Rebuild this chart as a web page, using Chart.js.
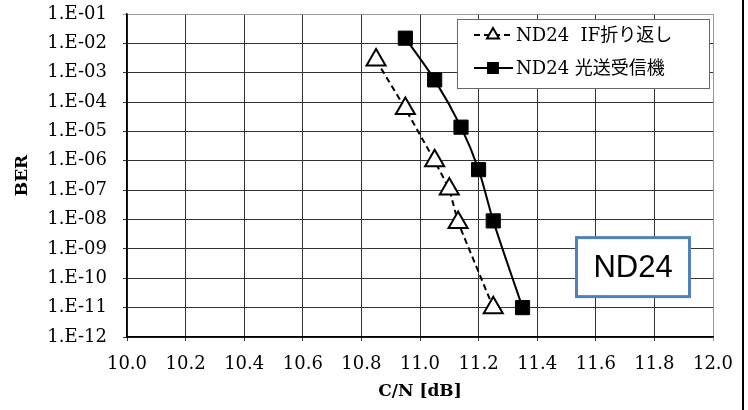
<!DOCTYPE html>
<html>
<head>
<meta charset="utf-8">
<script src="https://cdn.jsdelivr.net/npm/chart.js@4"></script>
<style>
  body { margin: 0; background: #fff; }
  #wrap { width: 748px; height: 410px; }
</style>
</head>
<body>
<div id="wrap"><canvas id="chart" width="748" height="410"></canvas></div>
<script>
const ifLabel = "ND24  IF折り返し";
const ifCN = [10.85, 10.95, 11.05, 11.1, 11.13, 11.25];
const ifBER = [2.7e-3, 6e-5, 1e-6, 1.1e-7, 8e-9, 1e-11];

const optLabel = "ND24 光送受信機";
const optCN = [10.95, 11.05, 11.14, 11.2, 11.25, 11.35];
const optBER = [1.5e-2, 5.7e-4, 1.4e-5, 5e-7, 9e-9, 1e-11];

const xTicks = [10.0, 10.2, 10.4, 10.6, 10.8, 11.0, 11.2, 11.4, 11.6, 11.8, 12.0];
const yTicks = [1e-1, 1e-2, 1e-3, 1e-4, 1e-5, 1e-6, 1e-7, 1e-8, 1e-9, 1e-10, 1e-11, 1e-12];

const boxText = "ND24";
const boxAt = { x: 11.727, y: 2.4e-10 };

const serif = "'DejaVu Serif', 'Noto Sans CJK JP', serif";

function sciLabel(v) {
  const e = Math.round(Math.log10(v));
  const n = Math.abs(e);
  return "1.E" + (e < 0 ? "-" : "+") + (n < 10 ? "0" + n : n);
}

const toPoints = (xs, ys) => xs.map((x, i) => ({ x, y: ys[i] }));

const overlay = {
  id: "overlay",
  afterDatasetsDraw(chart) {
    const { ctx, chartArea, scales } = chart;
    ctx.save();

    // legend box
    const w = 252, h = 69;
    const left = chartArea.right - w - 4, top = chartArea.top + 5;
    ctx.fillStyle = "#fff";
    ctx.fillRect(left, top, w, h);
    ctx.strokeStyle = "#666";
    ctx.lineWidth = 1;
    ctx.strokeRect(left + 0.5, top + 0.5, w, h);
    chart.data.datasets.forEach((ds, i) => {
      const y = top + 16 + i * 33;
      ctx.strokeStyle = "#000";
      ctx.lineWidth = 2;
      ctx.setLineDash(ds.borderDash || []);
      ctx.beginPath();
      ctx.moveTo(left + 17, y);
      ctx.lineTo(left + 56, y);
      ctx.stroke();
      ctx.setLineDash([]);
      ctx.fillStyle = ds.pointBackgroundColor;
      ctx.strokeStyle = "#000";
      ctx.lineWidth = 2;
      Chart.helpers.drawPoint(ctx, {
        pointStyle: ds.pointStyle,
        radius: 7,
        rotation: 0,
        borderWidth: 2
      }, left + 36, y);
      ctx.fillStyle = "#000";
      ctx.font = "18px " + serif;
      ctx.textBaseline = "middle";
      ctx.textAlign = "left";
      ctx.fillText(ds.label, left + 59, y + 1);
    });

    // ND24 label box
    const cx = scales.x.getPixelForValue(boxAt.x);
    const cy = scales.y.getPixelForValue(boxAt.y);
    const bw = 113, bh = 59;
    ctx.fillStyle = "#fff";
    ctx.fillRect(cx - bw / 2, cy - bh / 2, bw, bh);
    ctx.strokeStyle = "#4F81BD";
    ctx.lineWidth = 3;
    ctx.strokeRect(cx - bw / 2, cy - bh / 2, bw, bh);
    ctx.fillStyle = "#000";
    ctx.font = "31px 'Liberation Sans', Arial, sans-serif";
    ctx.textAlign = "center";
    ctx.textBaseline = "middle";
    ctx.fillText(boxText, cx, cy + 1);
    ctx.restore();
  },
  afterDraw(chart) {
    const ctx = chart.ctx;
    ctx.save();
    ctx.fillStyle = "#000";
    ctx.fillRect(chart.width - 6, 0, 2, chart.height);
    ctx.restore();
  }
};

new Chart(document.getElementById("chart"), {
  type: "line",
  data: {
    datasets: [
      {
        label: ifLabel,
        data: toPoints(ifCN, ifBER),
        borderColor: "#000",
        borderWidth: 2,
        borderDash: [6, 4],
        tension: 0,
        pointStyle: "triangle",
        pointRadius: 11,
        pointBorderWidth: 2,
        pointBorderColor: "#000",
        pointBackgroundColor: "#fff"
      },
      {
        label: optLabel,
        data: toPoints(optCN, optBER),
        borderColor: "#000",
        borderWidth: 2,
        tension: 0.3,
        pointStyle: "rect",
        pointRadius: 10,
        pointBorderWidth: 1,
        pointBorderColor: "#000",
        pointBackgroundColor: "#000"
      }
    ]
  },
  options: {
    responsive: false,
    animation: false,
    layout: { padding: { left: 0, right: 35, top: 14, bottom: 0 } },
    plugins: { legend: { display: false }, tooltip: { enabled: false } },
    scales: {
      x: {
        type: "linear",
        min: 10,
        max: 12,
        afterBuildTicks: (s) => { s.ticks = xTicks.map((v) => ({ value: v })); },
        afterFit: (s) => { s.height = 73; s.paddingLeft = 0; s.paddingRight = 0; },
        ticks: {
          color: "#000",
          padding: 13,
          font: { family: serif, size: 18 },
          callback: (v) => v.toFixed(1)
        },
        grid: {
          color: (c) => (c.index === xTicks.length - 1 ? "#999" : "#333"),
          lineWidth: 1,
          tickLength: 4
        },
        border: { color: "#000", width: 1.5 },
        title: {
          display: true,
          text: "C/N [dB]",
          color: "#000",
          font: { family: serif, size: 17, weight: "bold" },
          padding: { top: 0, bottom: 8 }
        }
      },
      y: {
        type: "logarithmic",
        min: 1e-12,
        max: 1e-1,
        afterBuildTicks: (s) => { s.ticks = yTicks.map((v) => ({ value: v })); },
        afterFit: (s) => { s.width = 127; s.paddingTop = 0; s.paddingBottom = 0; },
        ticks: {
          color: "#000",
          padding: 16,
          font: { family: serif, size: 18 },
          callback: (v) => sciLabel(v)
        },
        grid: {
          color: (c) => (c.tick && c.tick.value === 1e-1 ? "#999" : "#333"),
          lineWidth: 1,
          tickLength: 4
        },
        border: { color: "#000", width: 1.5 },
        title: {
          display: true,
          text: "BER",
          color: "#000",
          font: { family: serif, size: 17, weight: "bold" },
          padding: { top: 12, bottom: 0 }
        }
      }
    }
  },
  plugins: [overlay]
});
</script>
</body>
</html>
